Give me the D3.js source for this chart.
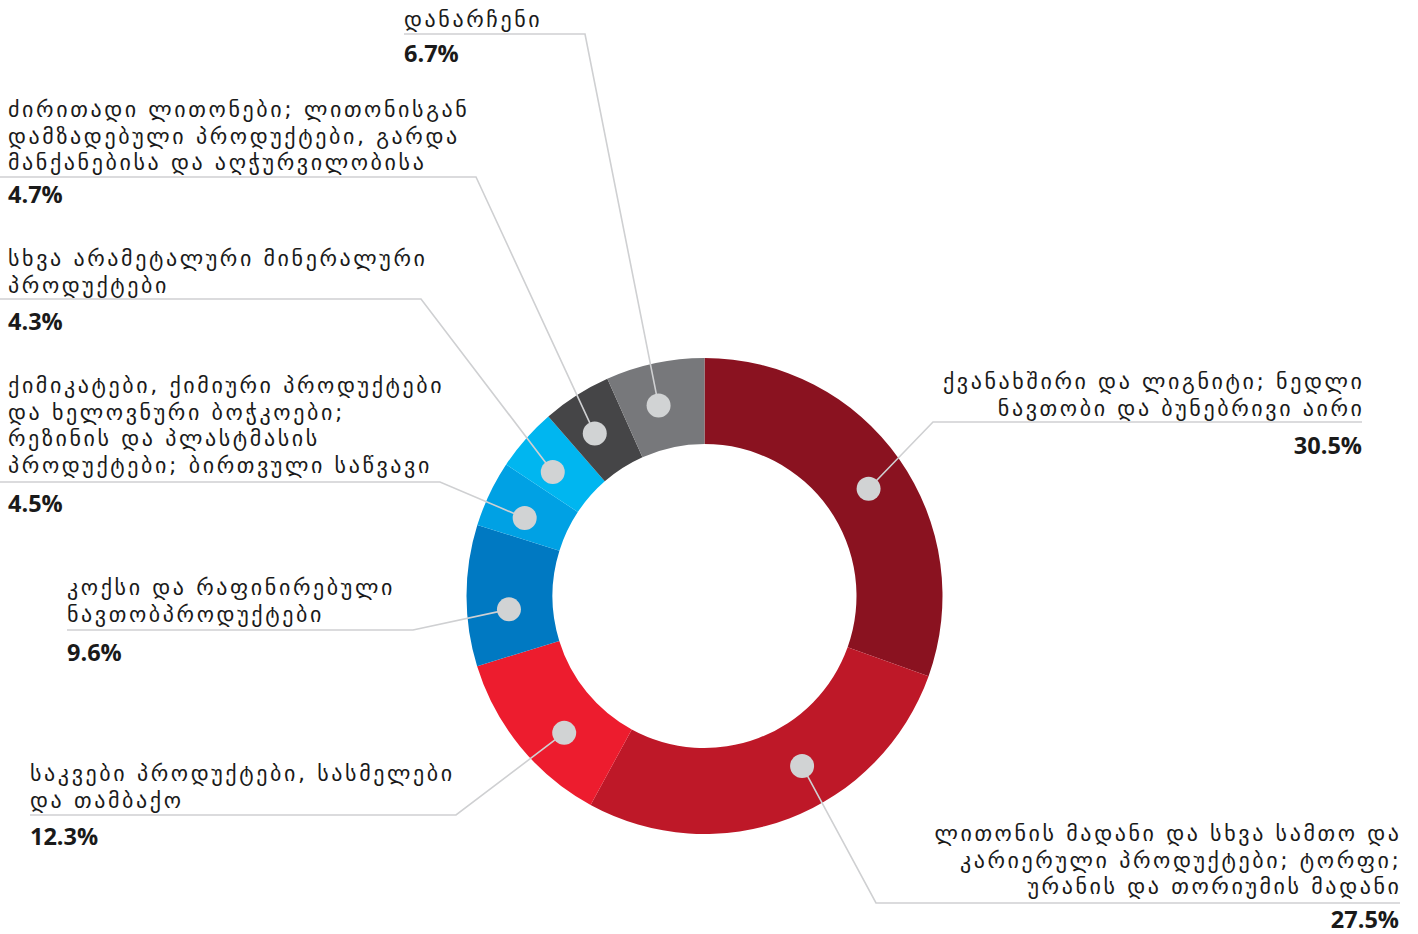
<!DOCTYPE html>
<html>
<head>
<meta charset="utf-8">
<script src="https://cdn.jsdelivr.net/npm/d3@7"></script>
<style>
  html, body { margin: 0; padding: 0; background: #ffffff; }
  svg { display: block; }
  .lbl { font-family: "DejaVu Sans", sans-serif; font-size: 22px; fill: #1a1a1a; letter-spacing: 2.6px; }
  .pct { font-family: "Open Sans", sans-serif; font-weight: 700; font-size: 23.5px; fill: #1a1a1a; }
</style>
</head>
<body>
<script>
// ---- data ----
const categories = [
  ["ქვანახშირი და ლიგნიტი; ნედლი", "ნავთობი და ბუნებრივი აირი"],
  ["ლითონის მადანი და სხვა სამთო და", "კარიერული პროდუქტები; ტორფი;", "ურანის და თორიუმის მადანი"],
  ["საკვები პროდუქტები, სასმელები", "და თამბაქო"],
  ["კოქსი და რაფინირებული", "ნავთობპროდუქტები"],
  ["ქიმიკატები, ქიმიური პროდუქტები", "და ხელოვნური ბოჭკოები;", "რეზინის და პლასტმასის", "პროდუქტები; ბირთვული საწვავი"],
  ["სხვა არამეტალური მინერალური", "პროდუქტები"],
  ["ძირითადი ლითონები; ლითონისგან", "დამზადებული პროდუქტები, გარდა", "მანქანებისა და აღჭურვილობისა"],
  ["დანარჩენი"]
];
const values = [30.5, 27.5, 12.3, 9.6, 4.5, 4.3, 4.7, 6.7];
const valueLabels = ["30.5%", "27.5%", "12.3%", "9.6%", "4.5%", "4.3%", "4.7%", "6.7%"];

// ---- style / layout ----
const colors = ["#8a1220", "#be1828", "#ed1c2e", "#0079c2", "#00a1e4", "#00b6f0", "#454547", "#77787b"];
const W = 1418, H = 934;
const cx = 704.5, cy = 596, R = 238, r = 152;
const dotR = 12, dotRing = 196;
const dotShiftDeg = [2, -9, -5, -4, -2, -2, -1.5, -1.5];
const letterSp = 2.6;
// label blocks: anchor, text x, first baseline, underline y, elbow x, far end x, pct baseline
const labelLayout = [
  {anchor: "end",   x: 1362, y: 389, uy: 422, ex: 933, fx: 1362, py: 454},
  {anchor: "end",   x: 1399, y: 841, uy: 903, ex: 876, fx: 1400, py: 928},
  {anchor: "start", x: 30,   y: 781, uy: 815, ex: 456, fx: 30,   py: 845},
  {anchor: "start", x: 67,   y: 595, uy: 630, ex: 413, fx: 67,   py: 661},
  {anchor: "start", x: 8,    y: 393, uy: 482, ex: 440, fx: 0,    py: 512},
  {anchor: "start", x: 8,    y: 266, uy: 299, ex: 421, fx: 0,    py: 330},
  {anchor: "start", x: 8,    y: 117, uy: 177, ex: 476, fx: 0,    py: 203},
  {anchor: "start", x: 404,  y: 27,  uy: 34,  ex: 585, fx: 404,  py: 62}
];
const lineGap = 26.5;

const svg = d3.select("body").append("svg").attr("width", W).attr("height", H);

const pie = d3.pie().sort(null).value(d => d)(values);
const arc = d3.arc().innerRadius(r).outerRadius(R);

const g = svg.append("g").attr("transform", `translate(${cx},${cy})`);
g.selectAll("path.slice").data(pie).join("path")
  .attr("class", "slice")
  .attr("d", arc)
  .attr("fill", (d, i) => colors[i]);

const dotPos = pie.map((d, i) => {
  const a = (d.startAngle + d.endAngle) / 2 + dotShiftDeg[i] * Math.PI / 180;
  return [cx + dotRing * Math.sin(a), cy - dotRing * Math.cos(a)];
});

// leader lines
const lines = svg.append("g").attr("fill", "none").attr("stroke", "#cfd0d2").attr("stroke-width", 1.6);
labelLayout.forEach((L, i) => {
  const p = dotPos[i];
  lines.append("polyline")
    .attr("points", `${L.fx},${L.uy} ${L.ex},${L.uy} ${p[0]},${p[1]}`);
});

// dots
svg.append("g").selectAll("circle").data(dotPos).join("circle")
  .attr("cx", d => d[0]).attr("cy", d => d[1]).attr("r", dotR).attr("fill", "#d1d3d4");

// labels
labelLayout.forEach((L, i) => {
  const t = svg.append("text").attr("class", "lbl").attr("text-anchor", L.anchor);
  const tx = L.anchor === "end" ? L.x + letterSp : L.x;
  categories[i].forEach((s, k) => {
    t.append("tspan").attr("x", tx).attr("y", L.y + k * lineGap).text(s);
  });
  svg.append("text").attr("class", "pct").attr("text-anchor", L.anchor)
    .attr("x", L.x).attr("y", L.py).text(valueLabels[i]);
});
</script>
</body>
</html>
